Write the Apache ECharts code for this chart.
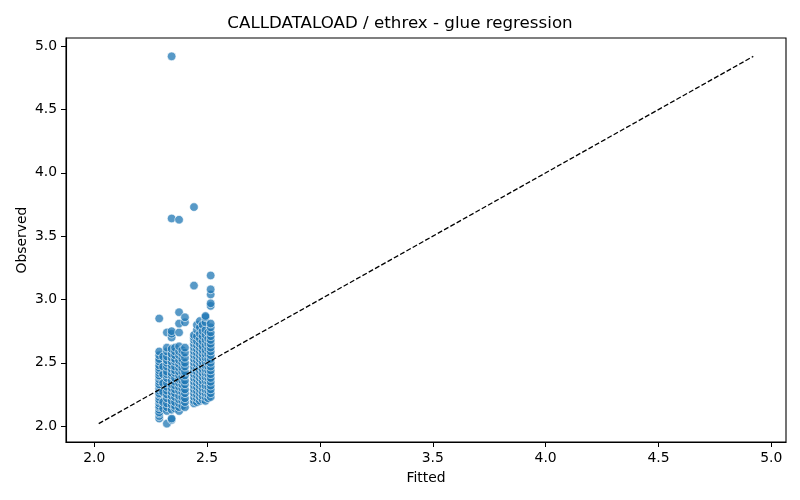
<!DOCTYPE html>
<html>
<head>
<meta charset="utf-8">
<script src="https://cdn.jsdelivr.net/npm/echarts@6/dist/echarts.min.js"></script>
<style>
  html, body { margin: 0; padding: 0; background: #fff; }
  #main { width: 800px; height: 500px; }
</style>
</head>
<body>
<div id="main"></div>
<script>
// fitted value of each column of points
const fittedCols = [2.288, 2.305, 2.322, 2.343, 2.358, 2.376, 2.390, 2.402,
                    2.442, 2.455, 2.468, 2.480, 2.493, 2.505, 2.516];

const obs2288 = [2.06, 2.08, 2.10, 2.11, 2.13, 2.15, 2.16, 2.18, 2.20, 2.21, 2.23, 2.25, 2.26, 2.28, 2.30, 2.32, 2.33, 2.35, 2.37, 2.39, 2.40, 2.42, 2.44, 2.46, 2.48, 2.51, 2.53, 2.56, 2.59, 2.85];
const obs2305 = [2.14, 2.19, 2.27, 2.34, 2.41, 2.47, 2.55];
const obs2322 = [2.02, 2.12, 2.15, 2.18, 2.22, 2.25, 2.28, 2.31, 2.34, 2.38, 2.41, 2.43, 2.47, 2.50, 2.52, 2.55, 2.59, 2.62, 2.74];
const obs2343 = [2.05, 2.06, 2.13, 2.17, 2.20, 2.24, 2.27, 2.30, 2.33, 2.36, 2.40, 2.42, 2.45, 2.48, 2.51, 2.54, 2.57, 2.61, 2.70, 2.73, 2.75, 3.64, 4.92];
const obs2358 = [2.14, 2.16, 2.19, 2.23, 2.26, 2.29, 2.32, 2.35, 2.38, 2.42, 2.44, 2.47, 2.51, 2.53, 2.56, 2.59, 2.62];
const obs2376 = [2.12, 2.15, 2.18, 2.21, 2.24, 2.28, 2.31, 2.34, 2.37, 2.40, 2.43, 2.46, 2.49, 2.52, 2.56, 2.59, 2.63, 2.74, 2.81, 2.90, 3.63];
const obs2390 = [2.16, 2.20, 2.23, 2.27, 2.30, 2.33, 2.36, 2.39, 2.43, 2.46, 2.50, 2.53, 2.57, 2.60];
const obs2402 = [2.15, 2.19, 2.22, 2.26, 2.29, 2.33, 2.36, 2.40, 2.43, 2.47, 2.50, 2.54, 2.58, 2.62, 2.82, 2.86];
const obs2442 = [2.18, 2.20, 2.23, 2.26, 2.29, 2.32, 2.35, 2.38, 2.41, 2.44, 2.47, 2.50, 2.53, 2.56, 2.59, 2.62, 2.65, 2.68, 2.70, 2.72, 3.11, 3.73];
const obs2455 = [2.19, 2.22, 2.25, 2.28, 2.31, 2.34, 2.37, 2.40, 2.43, 2.46, 2.49, 2.52, 2.55, 2.58, 2.61, 2.64, 2.67, 2.71, 2.76, 2.80];
const obs2468 = [2.20, 2.23, 2.26, 2.29, 2.32, 2.35, 2.38, 2.41, 2.44, 2.47, 2.50, 2.53, 2.56, 2.59, 2.62, 2.65, 2.69, 2.73, 2.78, 2.83];
const obs2480 = [2.21, 2.24, 2.27, 2.30, 2.33, 2.36, 2.39, 2.42, 2.45, 2.48, 2.51, 2.54, 2.57, 2.60, 2.63, 2.67, 2.71, 2.75, 2.80];
const obs2493 = [2.20, 2.23, 2.26, 2.29, 2.32, 2.36, 2.39, 2.42, 2.45, 2.48, 2.51, 2.54, 2.57, 2.60, 2.64, 2.68, 2.72, 2.76, 2.82, 2.86, 2.87];
const obs2505 = [2.22, 2.25, 2.28, 2.31, 2.35, 2.38, 2.41, 2.44, 2.47, 2.50, 2.53, 2.57, 2.61, 2.65, 2.69, 2.74];
const obs2516 = [2.23, 2.26, 2.29, 2.32, 2.35, 2.38, 2.41, 2.44, 2.47, 2.50, 2.53, 2.56, 2.59, 2.62, 2.65, 2.68, 2.71, 2.74, 2.78, 2.81, 2.95, 2.97, 3.04, 3.08, 3.19];

const observedCols = [obs2288, obs2305, obs2322, obs2343, obs2358, obs2376, obs2390, obs2402,
                      obs2442, obs2455, obs2468, obs2480, obs2493, obs2505, obs2516];

// y = x reference line, from min to max of the data
const diagEnds = [2.02, 4.92];
const tickVals = [2.0, 2.5, 3.0, 3.5, 4.0, 4.5, 5.0];
const axisMin = 1.875, axisMax = 5.065;

const points = [];
fittedCols.forEach(function (x, i) {
  observedCols[i].forEach(function (y) { points.push([x, y]); });
});

const chart = echarts.init(document.getElementById('main'));

const axisCommon = {
  type: 'value',
  min: axisMin,
  max: axisMax,
  nameLocation: 'middle',
  nameMoveOverlap: false,
  nameTextStyle: { fontFamily: 'DejaVu Sans', fontSize: 13.9, color: '#000' },
  axisLine: { show: true, onZero: false, lineStyle: { color: '#000', width: 1.1 } },
  axisTick: { show: true, length: 5, customValues: tickVals, lineStyle: { color: '#000' } },
  axisLabel: {
    customValues: tickVals,
    fontFamily: 'DejaVu Sans', fontSize: 13.9, color: '#000',
    formatter: function (v) { return v.toFixed(1); }
  },
  splitLine: { show: false }
};

chart.setOption({
  animation: false,
  title: {
    text: 'CALLDATALOAD / ethrex - glue regression',
    left: 'center', top: 10,
    textStyle: { fontFamily: 'DejaVu Sans', fontSize: 16.7, fontWeight: 'normal', color: '#000' }
  },
  grid: { left: 66, right: 14, top: 38, bottom: 58, show: true, borderColor: '#000', borderWidth: 1.1 },
  xAxis: Object.assign({}, axisCommon, { name: 'Fitted', nameGap: 29, axisLabel: Object.assign({}, axisCommon.axisLabel, { margin: 9 }) }),
  yAxis: Object.assign({}, axisCommon, { name: 'Observed', nameGap: 37, axisLabel: Object.assign({}, axisCommon.axisLabel, { margin: 9 }) }),
  series: [
    {
      type: 'scatter',
      data: points,
      symbolSize: 8.6,
      itemStyle: { color: '#1f77b4', opacity: 0.75, borderColor: '#fff', borderWidth: 0.8 }
    },
    {
      type: 'line',
      data: [[diagEnds[0], diagEnds[0]], [diagEnds[1], diagEnds[1]]],
      symbol: 'none',
      lineStyle: { color: '#000', width: 1.3, type: [5, 2.2] },
      z: 3
    }
  ]
});
</script>
</body>
</html>
